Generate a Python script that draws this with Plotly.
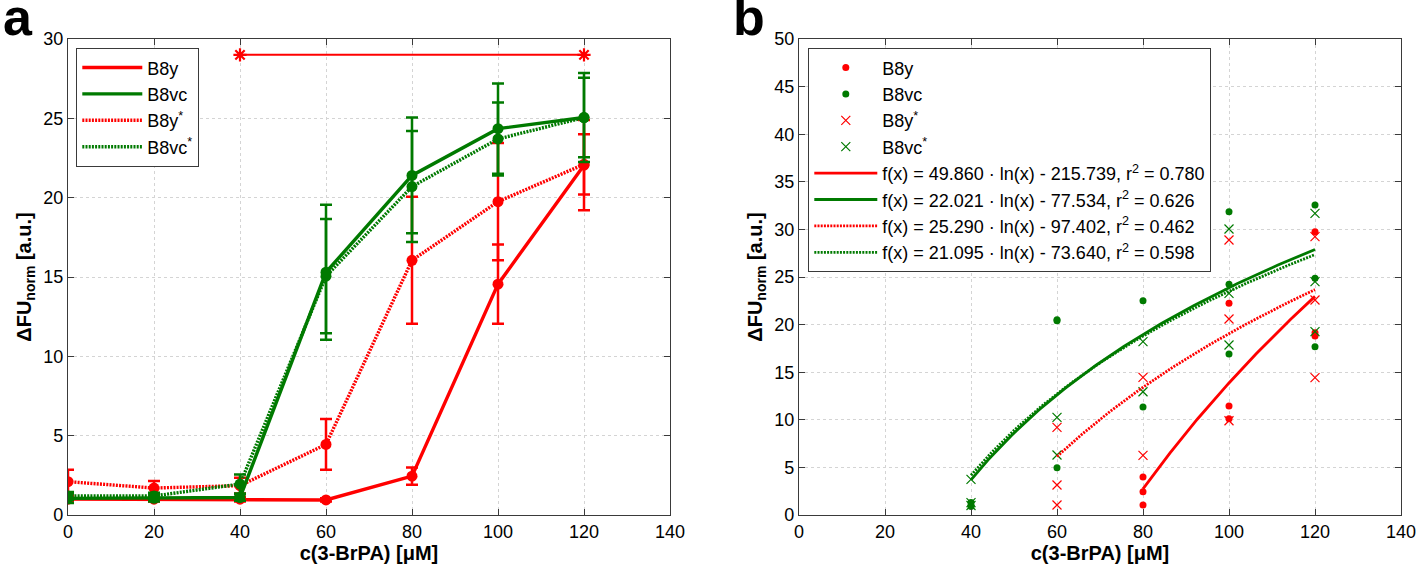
import numpy as np
import plotly.graph_objects as go

# ---------------- Panel a data ----------------
conc_a = [0, 20, 40, 60, 80, 100, 120]
b8y_mean = [1.0, 1.0, 1.0, 0.95, 2.45, 14.55, 22.05]
b8y_err = [0.2, 0.15, 0.15, 0.1, 0.55, 2.5, 2.85]
b8vc_mean = [1.05, 1.05, 1.1, 15.3, 21.4, 24.35, 25.05]
b8vc_err = [0.3, 0.2, 0.2, 4.25, 3.65, 2.85, 2.8]
b8ys_mean = [2.1, 1.7, 1.85, 4.45, 16.05, 19.75, 22.1]
b8ys_err = [0.75, 0.45, 0.5, 1.6, 4.0, 3.7, 1.9]
b8vcs_mean = [1.2, 1.2, 1.95, 15.05, 20.7, 23.7, 25.05]
b8vcs_err = [0.25, 0.2, 0.6, 3.6, 3.5, 2.3, 2.5]
sig_x = [40, 120]
sig_y = [29, 29]

# ---------------- Panel b data ----------------
b8y_x = [80, 80, 80, 100, 100, 100, 120, 120, 120]
b8y_y = [3.99, 2.45, 1.05, 22.23, 11.45, 10.12, 29.76, 19.15, 18.8]
b8vc_x = [40, 40, 40, 60, 60, 60, 80, 80, 100, 100, 100, 120, 120, 120]
b8vc_y = [1.3, 1.0, 0.9, 20.5, 20.4, 4.97, 22.51, 11.34, 31.86, 24.23, 16.91, 32.56, 24.86, 17.68]
b8ys_x = [60, 60, 60, 80, 80, 100, 100, 100, 120, 120, 120]
b8ys_y = [9.21, 3.15, 1.05, 14.46, 6.27, 28.89, 20.59, 9.9, 29.24, 22.58, 14.43]
b8vcs_x = [40, 40, 40, 60, 60, 80, 80, 100, 100, 100, 120, 120, 120]
b8vcs_y = [3.75, 1.3, 1.0, 10.26, 6.3, 18.21, 12.95, 30.04, 23.28, 17.86, 31.69, 24.51, 19.26]

fit_a = [49.860, 22.021, 25.290, 21.095]
fit_b = [-215.739, -77.534, -97.402, -73.640]
fit_r2 = [0.780, 0.626, 0.462, 0.598]
fit_start = [80, 40, 60, 40]
fit_end = [120, 120, 120, 120]

names = ["B8y", "B8vc", "B8y<sup>*</sup>", "B8vc<sup>*</sup>"]
RED = "#FF0000"
GREEN = "#007A00"
DOT = "2px,1.2px"
FONT = "Arial, Liberation Sans, sans-serif"

fig = go.Figure()

# ----- panel a traces -----
series_a = [
    (b8y_mean, b8y_err, RED, "solid"),
    (b8ys_mean, b8ys_err, RED, DOT),
    (b8vcs_mean, b8vcs_err, GREEN, DOT),
    (b8vc_mean, b8vc_err, GREEN, "solid"),
]
for ys, es, col, dash in series_a:
    fig.add_trace(go.Scatter(
        x=conc_a, y=ys, mode="lines+markers", xaxis="x", yaxis="y",
        line=dict(color=col, width=3.4, dash=dash),
        marker=dict(color=col, size=11, symbol="circle"),
        error_y=dict(type="data", array=es, visible=True, color=col, thickness=2.5, width=6),
        showlegend=False, hoverinfo="skip"))

fig.add_trace(go.Scatter(
    x=sig_x, y=sig_y, mode="lines+markers", xaxis="x", yaxis="y",
    line=dict(color=RED, width=2),
    marker=dict(color=RED, size=11, symbol="asterisk-open", line=dict(color=RED, width=2.2)),
    showlegend=False, hoverinfo="skip"))

# legend-only entries for panel a
for nm, col, dash in zip(names, [RED, GREEN, RED, GREEN], ["solid", "solid", DOT, DOT]):
    fig.add_trace(go.Scatter(
        x=[None], y=[None], mode="lines", xaxis="x", yaxis="y", name=nm,
        line=dict(color=col, width=3.4, dash=dash), legend="legend"))

# ----- panel b traces -----
pts = [
    (b8y_x, b8y_y, RED, "circle", names[0]),
    (b8vc_x, b8vc_y, GREEN, "circle", names[1]),
    (b8ys_x, b8ys_y, RED, "x-thin-open", names[2]),
    (b8vcs_x, b8vcs_y, GREEN, "x-thin-open", names[3]),
]
for xs, ys, col, sym, nm in pts:
    if sym == "circle":
        mk = dict(color=col, size=7, symbol=sym)
    else:
        mk = dict(color=col, size=9, symbol=sym, line=dict(color=col, width=1.2))
    fig.add_trace(go.Scatter(
        x=xs, y=ys, mode="markers", xaxis="x2", yaxis="y2", name=nm,
        marker=mk, legend="legend2", hoverinfo="skip"))

for a, b, r2, x0, x1, col, dash in zip(fit_a, fit_b, fit_r2, fit_start, fit_end,
                                        [RED, GREEN, RED, GREEN],
                                        ["solid", "solid", DOT, DOT]):
    xf = np.linspace(x0, x1, 120)
    yf = a * np.log(xf) + b
    label = f"f(x) = {a:.3f} · ln(x) - {abs(b):.3f}, r<sup>2</sup> = {r2:.3f}"
    fig.add_trace(go.Scatter(
        x=xf, y=yf, mode="lines", xaxis="x2", yaxis="y2", name=label,
        line=dict(color=col, width=2.8, dash=dash), legend="legend2", hoverinfo="skip"))

W, H = 1418, 569
xa_dom = [68 / W, 670 / W]
xb_dom = [799 / W, 1401 / W]
y_dom = [(H - 515) / H, (H - 39) / H]

axis_common = dict(
    automargin=False,
    showline=True, mirror="ticks", linecolor="#3a3a3a", linewidth=1.3,
    ticks="inside", ticklen=6, tickcolor="#3a3a3a", tickwidth=1.3,
    showgrid=True, gridcolor="#d4d4d4", griddash="dot", gridwidth=1,
    zeroline=False, tickfont=dict(family=FONT, size=18, color="black"),
)
xtitle = dict(text="<b>c(3-BrPA) [μM]</b>", font=dict(family=FONT, size=20, color="black"), standoff=2)
ytitle = dict(text="<b>ΔFU<sub>norm</sub> [a.u.]</b>", font=dict(family=FONT, size=20, color="black"), standoff=6)

legend_common = dict(
    bgcolor="white", bordercolor="#3a3a3a", borderwidth=1.3,
    font=dict(family=FONT, size=18, color="black"),
    xanchor="left", yanchor="top", tracegroupgap=0,
)

fig.update_layout(
    width=W, height=H, autosize=False,
    margin=dict(l=0, r=0, t=0, b=0, autoexpand=False),
    paper_bgcolor="white", plot_bgcolor="white",
    font=dict(family=FONT, color="black"),
    xaxis=dict(domain=xa_dom, range=[0, 140], dtick=20, anchor="y", title=xtitle, **axis_common),
    yaxis=dict(domain=y_dom, range=[0, 30], dtick=5, anchor="x", title=ytitle, **axis_common),
    xaxis2=dict(domain=xb_dom, range=[0, 140], dtick=20, anchor="y2", title=xtitle, **axis_common),
    yaxis2=dict(domain=y_dom, range=[0, 50], dtick=5, anchor="x2", title=ytitle, **axis_common),
    legend=dict(x=76 / W, y=1 - 48 / H, itemwidth=60, **legend_common),
    legend2=dict(x=808 / W, y=1 - 48 / H, itemwidth=63, **legend_common),
    annotations=[
        dict(text="<b>a</b>", x=1 / W, y=1.0 + 14 / H, xref="paper", yref="paper", xanchor="left", yanchor="top",
             showarrow=False, font=dict(family=FONT, size=52, color="black")),
        dict(text="<b>b</b>", x=731 / W, y=1.0 + 14 / H, xref="paper", yref="paper", xanchor="left", yanchor="top",
             showarrow=False, font=dict(family=FONT, size=52, color="black")),
    ],
)

fig.write_html("out.html", config={"displayModeBar": False},
               post_script="document.body.style.margin='0px';document.body.style.overflow='hidden';")
